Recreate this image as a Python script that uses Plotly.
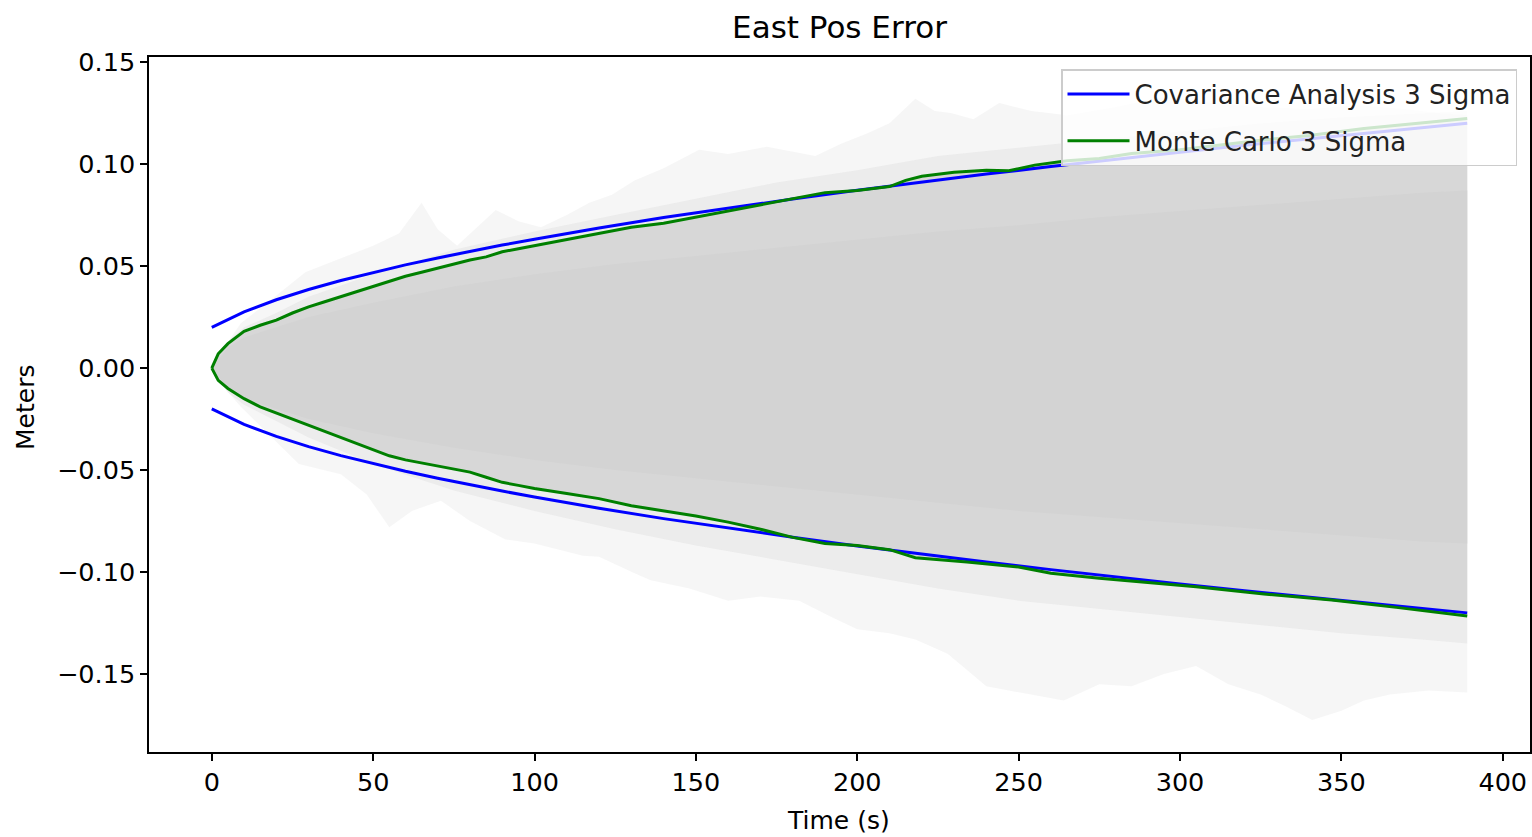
import plotly.graph_objects as go

# ---------------- data ----------------
# Covariance analysis 3-sigma bound (symmetric +/-)
t_cov = [0, 10, 20, 30, 40, 50, 60, 70, 80, 90, 100, 120, 140, 160, 180, 200,
         220, 240, 260, 280, 300, 320, 340, 360, 380, 389]
cov_3sig = [0.0200, 0.0276, 0.0335, 0.0385, 0.0429, 0.0469, 0.0506, 0.0540, 0.0573,
            0.0603, 0.0632, 0.0687, 0.0738, 0.0785, 0.0829, 0.0872, 0.0912, 0.0951,
            0.0988, 0.1024, 0.1058, 0.1092, 0.1124, 0.1156, 0.1187, 0.1200]

# Monte Carlo 3-sigma bound (upper / lower)
t_mc_up = [0, 2, 5, 10, 15, 20, 25, 30, 35, 40, 45, 50, 55, 60, 65, 70, 75, 80, 85, 90,
           95, 100, 110, 120, 130, 140, 150, 160, 170, 180, 190, 200, 210, 215, 220,
           230, 240, 247, 255, 265, 275, 285, 300, 325, 340, 357, 375, 389]
mc_up = [0.0, 0.007, 0.012, 0.018, 0.021, 0.0235, 0.027, 0.030, 0.0325, 0.035, 0.0375,
         0.040, 0.0425, 0.045, 0.047, 0.049, 0.051, 0.053, 0.0545, 0.057, 0.0585,
         0.060, 0.063, 0.066, 0.069, 0.071, 0.074, 0.077, 0.080, 0.083, 0.086, 0.087,
         0.089, 0.092, 0.094, 0.096, 0.097, 0.0967, 0.0995, 0.1016, 0.1027, 0.1052,
         0.107, 0.1117, 0.114, 0.1174, 0.120, 0.1223]
t_mc_lo = [0, 2, 5, 10, 15, 20, 25, 30, 35, 40, 45, 50, 55, 60, 65, 70, 75, 80, 85, 90,
           95, 100, 110, 120, 130, 140, 150, 160, 170, 180, 190, 200, 210, 218, 234, 250,
           260, 275, 290, 305, 326, 347, 367, 389]
mc_lo = [0.0, -0.006, -0.010, -0.015, -0.019, -0.022, -0.025, -0.028, -0.031, -0.034,
         -0.037, -0.040, -0.043, -0.045, -0.0465, -0.048, -0.0495, -0.051, -0.0535,
         -0.056, -0.0575, -0.059, -0.0615, -0.064, -0.0675, -0.070, -0.0725, -0.0755,
         -0.079, -0.083, -0.086, -0.087, -0.089, -0.093, -0.095, -0.0975, -0.1006,
         -0.103, -0.105, -0.1072, -0.1107, -0.1137, -0.1173, -0.1215]

# Extent of the faint Monte Carlo runs (outer envelope)
t_run_max = [0, 3, 9, 18, 29, 40, 50, 58, 65, 70, 76, 88, 95, 102, 110, 117, 124, 131,
             140, 151, 160, 172, 180, 187, 195, 203, 210, 218, 224, 229, 236, 244, 254,
             265, 280, 295, 310, 325, 340, 355, 370, 380, 389]
run_max = [0.0, 0.008, 0.022, 0.033, 0.047, 0.054, 0.060, 0.066, 0.081, 0.068, 0.060,
           0.0775, 0.072, 0.069, 0.075, 0.081, 0.085, 0.092, 0.098, 0.107, 0.105,
           0.1085, 0.106, 0.104, 0.110, 0.115, 0.120, 0.132, 0.126, 0.125, 0.122,
           0.130, 0.126, 0.124, 0.128, 0.133, 0.130, 0.128, 0.127, 0.129, 0.127,
           0.125, 0.124]
t_run_min = [0, 3, 9, 18, 27, 35, 40, 48, 55, 62, 71, 80, 91, 100, 107, 115, 120, 131,
             136, 148, 160, 170, 182, 192, 200, 210, 218, 228, 240, 250, 264, 275, 285,
             295, 305, 315, 325, 333, 341, 350, 357, 365, 377, 389]
run_min = [0.0, -0.008, -0.019, -0.033, -0.047, -0.050, -0.052, -0.062, -0.078,
           -0.070, -0.065, -0.075, -0.084, -0.086, -0.089, -0.092, -0.0925, -0.1006,
           -0.104, -0.108, -0.114, -0.112, -0.114, -0.122, -0.128, -0.130, -0.133,
           -0.140, -0.156, -0.159, -0.163, -0.155, -0.156, -0.150, -0.146, -0.155,
           -0.160, -0.166, -0.1725, -0.168, -0.163, -0.160, -0.158, -0.159]

# Band where many runs overlap just beyond the 3-sigma lines, and dense core
t_band = [0, 5, 10, 20, 30, 50, 75, 100, 125, 150, 175, 200, 225, 250, 275, 300, 325,
          350, 375, 389]
fringe_up = [0.0, 0.013, 0.020, 0.027, 0.035, 0.046, 0.058, 0.067, 0.075, 0.083, 0.091,
             0.097, 0.104, 0.108, 0.112, 0.116, 0.120, 0.123, 0.125, 0.126]
fringe_lo = [0.0, -0.012, -0.018, -0.026, -0.034, -0.047, -0.060, -0.070, -0.079,
             -0.087, -0.094, -0.101, -0.108, -0.114, -0.118, -0.122, -0.126, -0.130,
             -0.133, -0.135]
core_up = [0.0, 0.010, 0.015, 0.020, 0.025, 0.032, 0.040, 0.046, 0.051, 0.055, 0.059,
           0.063, 0.067, 0.070, 0.074, 0.077, 0.080, 0.083, 0.086, 0.087]
core_lo = [0.0, -0.010, -0.015, -0.020, -0.025, -0.032, -0.039, -0.045, -0.050,
           -0.054, -0.058, -0.062, -0.066, -0.070, -0.073, -0.076, -0.079, -0.082,
           -0.085, -0.086]

x_ticks = [0, 50, 100, 150, 200, 250, 300, 350, 400]
y_ticks = [-0.15, -0.10, -0.05, 0.00, 0.05, 0.10, 0.15]
y_tick_text = ["\u22120.15", "\u22120.10", "\u22120.05", "0.00", "0.05", "0.10", "0.15"]

FONT = "DejaVu Sans"
W, H = 1532, 837
L, R, T, B = 149, 2, 57, 85

fig = go.Figure()


def band(tu, up, tl, lo, color):
    fig.add_trace(go.Scatter(
        x=list(tu) + list(tl)[::-1], y=list(up) + list(lo)[::-1],
        fill="toself", fillcolor=color, mode="lines", line=dict(width=0),
        showlegend=False, hoverinfo="skip"))


band(t_run_max, run_max, t_run_min, run_min, "rgba(211,211,211,0.20)")
band(t_band, fringe_up, t_band, fringe_lo, "rgba(211,211,211,0.30)")
band(t_mc_up, mc_up, t_mc_lo, mc_lo, "rgba(211,211,211,0.85)")
band(t_band, core_up, t_band, core_lo, "rgb(211,211,211)")

# Covariance analysis bounds
fig.add_trace(go.Scatter(x=t_cov, y=cov_3sig, mode="lines", line=dict(color="blue", width=3),
                         name="Covariance Analysis 3 Sigma", legendgroup="cov"))
fig.add_trace(go.Scatter(x=t_cov, y=[-v for v in cov_3sig], mode="lines",
                         line=dict(color="blue", width=3), showlegend=False, legendgroup="cov"))
# Monte Carlo bounds
fig.add_trace(go.Scatter(x=t_mc_up, y=mc_up, mode="lines", line=dict(color="green", width=3),
                         name="Monte Carlo 3 Sigma", legendgroup="mc"))
fig.add_trace(go.Scatter(x=t_mc_lo, y=mc_lo, mode="lines", line=dict(color="green", width=3),
                         showlegend=False, legendgroup="mc"))

pw, ph = W - L - R, H - T - B

fig.update_layout(
    width=W, height=H, margin=dict(l=L, r=R, t=T, b=B, autoexpand=False),
    paper_bgcolor="white", plot_bgcolor="white",
    font=dict(family=FONT, size=25, color="black"),
    title=dict(text="East Pos Error", x=0.5, xref="paper", y=1 - 27 / H, yref="container",
               xanchor="center", yanchor="middle", font=dict(size=31, family=FONT, color="black")),
    xaxis=dict(range=[-19.45, 408.45], tickvals=x_ticks, ticks="outside", ticklen=7, tickwidth=1.5,
               tickcolor="black", showline=True, linecolor="black", linewidth=1.5, mirror=True,
               showgrid=False, zeroline=False, tickfont=dict(size=25.5, family=FONT)),
    yaxis=dict(range=[-0.1882, 0.1525], tickvals=y_ticks, ticktext=y_tick_text, ticks="outside",
               ticklen=7, tickwidth=1.5, tickcolor="black", showline=True, linecolor="black",
               linewidth=1.5, mirror=True, showgrid=False, zeroline=False,
               tickfont=dict(size=25.5, family=FONT)),
    legend=dict(x=(1517 - L) / pw, y=(H - B - 69) / ph, xanchor="right", yanchor="top",
                bgcolor="rgba(255,255,255,0.8)", bordercolor="#cccccc", borderwidth=1.5,
                font=dict(size=26, family=FONT, color="#222222"), itemwidth=62),
    annotations=[
        dict(text="Meters", x=(25 - L) / pw, y=(H - B - 408) / ph, xref="paper", yref="paper",
             textangle=-90, showarrow=False, font=dict(size=25, family=FONT),
             xanchor="center", yanchor="middle"),
        dict(text="Time (s)", x=(838 - L) / pw, y=(H - B - 821) / ph, xref="paper", yref="paper",
             showarrow=False, font=dict(size=25, family=FONT), xanchor="center", yanchor="middle"),
    ],
)

fig.write_html("out.html")
